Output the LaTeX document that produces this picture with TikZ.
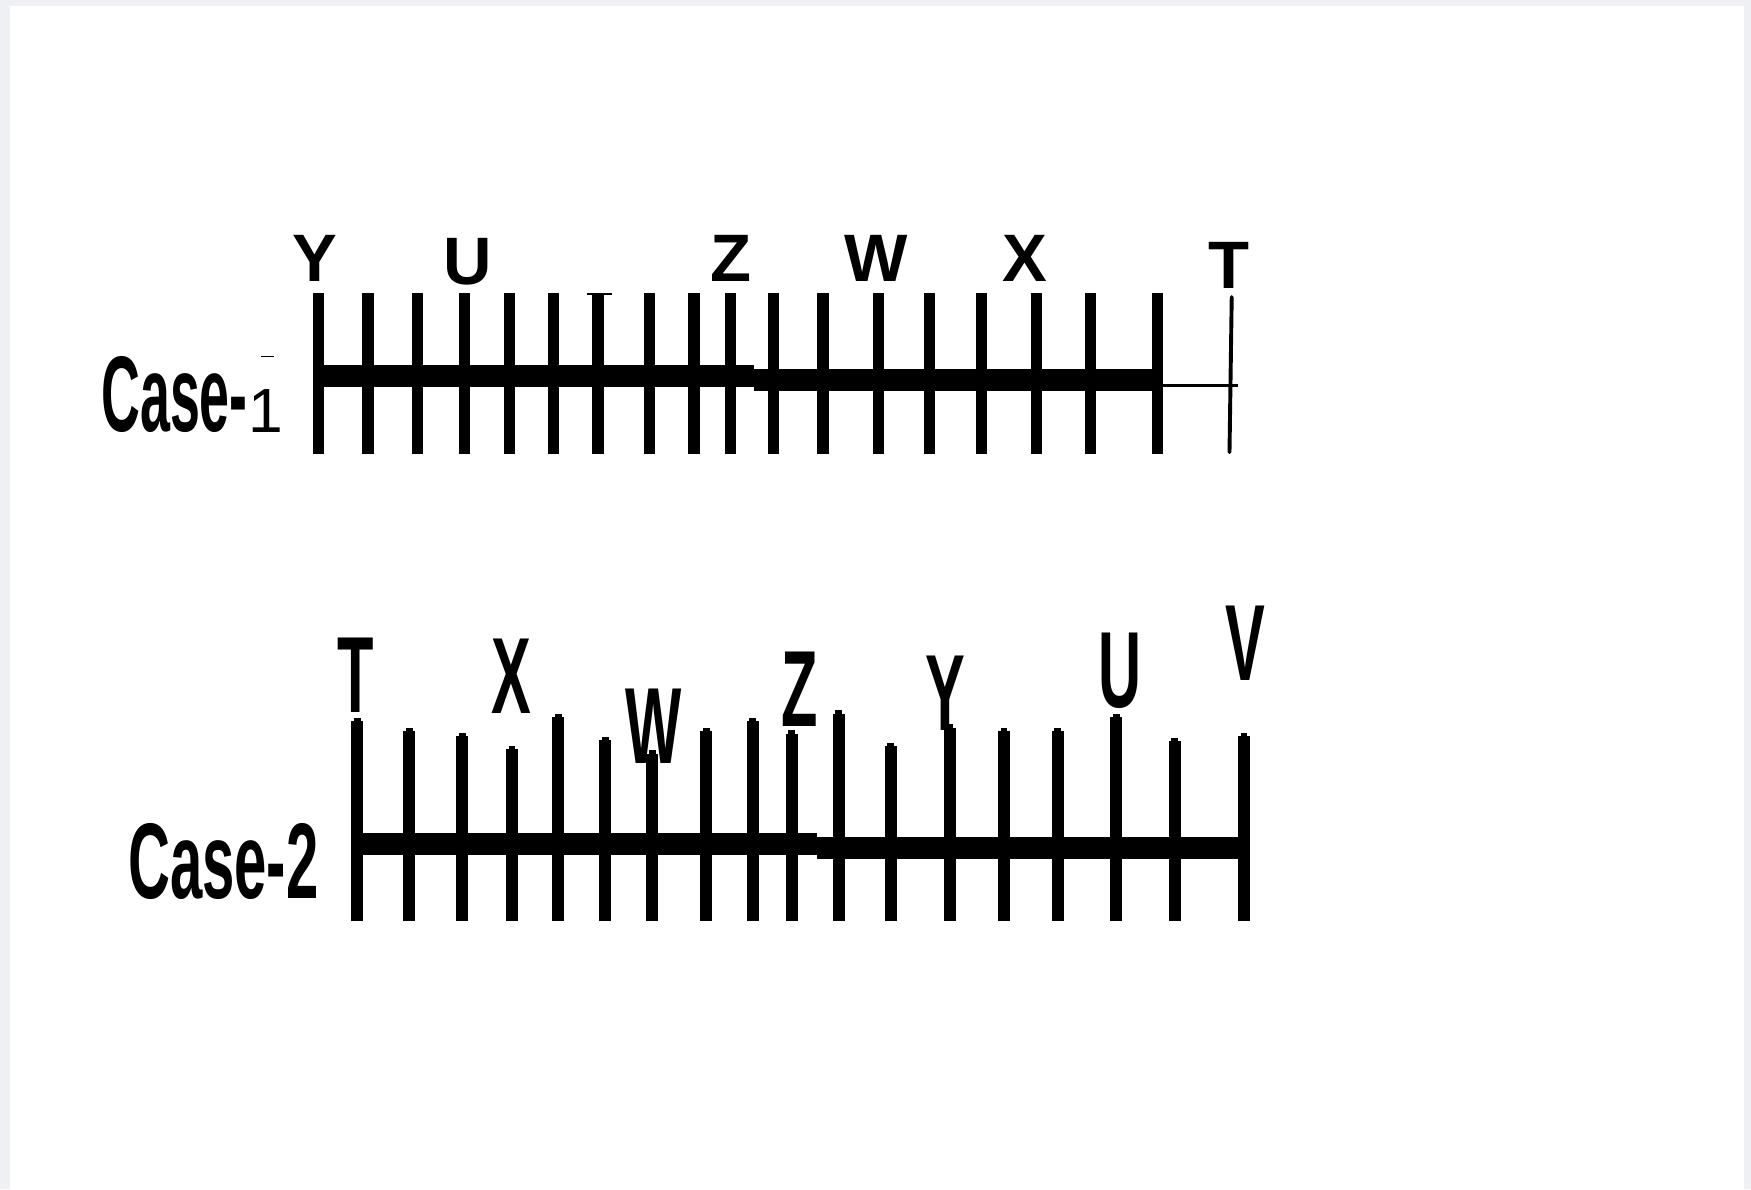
\documentclass[tikz,border=0pt]{standalone}
\usepackage{fontspec}
\setmainfont{Liberation Sans}
\definecolor{pagegray}{RGB}{238, 240, 243}
\usetikzlibrary{positioning}

\tikzset{
	capone/.style={font=\fontsize{17.1}{20}\selectfont\bfseries, inner sep=0pt, anchor=base},
	captwo/.style={font=\fontsize{27.6}{32}\selectfont\bfseries, inner sep=0pt, anchor=base},
	casename/.style={font=\fontsize{27.4}{32}\selectfont\bfseries, inner sep=0pt, anchor=base west},
	numone/.style={font=\fontsize{15.9}{18}\selectfont, inner sep=0pt, anchor=base},
}

\begin{document}
\begin{tikzpicture}[x=0.1mm, y=-0.1mm]
	\fill[pagegray] (0,0) rectangle (1568,1065);
	\fill[white] (9,5) rectangle (1562,1065);
	\useasboundingbox (0,0) rectangle (1568,1065);
	
	% Case-1
	\fill (280.5,327) rectangle (675,347);
	\fill (675,330.5) rectangle (1041.5,350);
	\foreach \x in {285.5,329.5,374,416,456,495.5,535.5,581.5,621.5,654,693,737,787,832.5,879,928.5,976.5,1036.5}
	\fill (\x-5,262) rectangle (\x+5,407);
	\fill (526,262) rectangle (548,264);
	\fill (234,318.5) rectangle (245,320);
	\coordinate (endone) at (1041.5,345);
	\coordinate (tipone) at (1109,345);
	\coordinate (ttop) at (1103,266);
	\coordinate (tbot) at (1101,405);
	\draw[line width=0.25mm] (endone) -- (tipone);
	\draw[line width=0.35mm, line cap=round] (ttop) -- (tbot);
	
	\node[casename] (caseone) at (90,386) {\scalebox{0.5}[1]{Case-}};
	\node[numone] (caseonenum) at (238.5,387) {1};
	\foreach \l/\x/\y in {Y/282/252,U/418.5/255,Z/654.5/252,W/785/252,X/918/252,T/1100.6/258}
	\node[capone] (one-\l) at (\x,\y) {\l};
	
	% Case-2
	\fill (315,745.7) rectangle (732,765.7);
	\fill (732,749.3) rectangle (1119.5,769.5);
	\foreach \x/\t in {320/643,366.5/651.5,414/656,458.5/668,500/639.5,542/660,584/672,632.5/651.5,674/643,709/654,751/636,797.5/665,850.5/648.5,899/652,947/652,999.5/639.5,1052/660.5,1114/656}
	{
		\fill (\x-5.4,\t+3) rectangle (\x+5.4,825);
		\fill (\x-3,\t) rectangle (\x+3,\t+4);
	}
	
	\node[casename] (casetwo) at (114,805) {\scalebox{0.54}[1]{Case-2}};
	\foreach \l/\x/\y in {T/318.6/638.2,X/458.3/638.8,W/585.6/683.6,Z/716.4/650.7,Y/847/654.5,U/1003/633.5,V/1115/609.6}
	\node[captwo] (two-\l) at (\x,\y) {\scalebox{0.55}[1]{\l}};
	
\end{tikzpicture}
\end{document}
